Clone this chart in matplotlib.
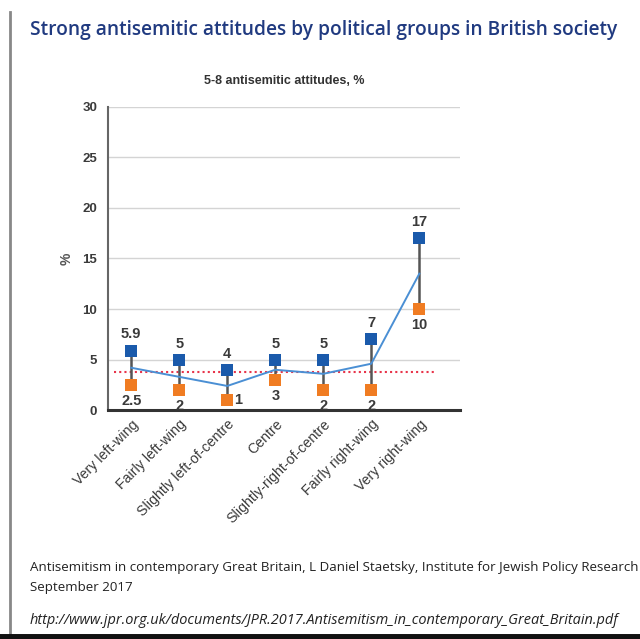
import matplotlib.pyplot as plt
from matplotlib.lines import Line2D

# data
groups = ['Very left-wing', 'Fairly left-wing', 'Slightly left-of-centre', 'Centre',
          'Slightly-right-of-centre', 'Fairly right-wing', 'Very right-wing']
high = [5.9, 5, 4, 5, 5, 7, 17]
low = [2.5, 2, 1, 3, 2, 2, 10]
high_labels = ['5.9', '5', '4', '5', '5', '7', '17']
low_labels = ['2.5', '2', '1', '3', '2', '2', '10']
trend = [4.2, 3.3, 2.4, 4.0, 3.6, 4.6, 13.5]
average = 3.8

plt.rcParams['font.family'] = ['Liberation Sans', 'DejaVu Sans']
page_font = ['Open Sans', 'DejaVu Sans']

fig = plt.figure(figsize=(6.4, 6.39), dpi=100, facecolor='white')
ax = fig.add_axes([0.169, 0.358, 0.55, 0.475])

x = list(range(len(groups)))

# grid
for g in [5, 10, 15, 20, 25, 30]:
    ax.axhline(g, color='#d4d4d4', lw=1, zorder=0)

# connectors between high and low
ax.vlines(x, low, high, color='#555555', lw=1.8, zorder=2)
# trend line
ax.plot(x, trend, color='#4a8fd4', lw=1.4, zorder=3)
# average dotted line
ax.hlines(average, -0.35, 6.35, color='#e8344a', lw=1.5, linestyles=(0, (1, 1.5)), zorder=1)
# markers
ax.scatter(x, high, marker='s', s=70, color='#1a5aab', zorder=4, linewidths=0)
ax.scatter(x, low, marker='s', s=70, color='#f07c22', zorder=4, linewidths=0)

for i in x:
    ax.text(i, high[i] + 0.9, high_labels[i], ha='center', va='bottom',
            fontsize=10.5, color='#3a3a3a', fontweight='bold')
    if i == 2:
        ax.text(i + 0.15, low[i], low_labels[i], ha='left', va='center',
                fontsize=10.5, color='#3a3a3a', fontweight='bold')
    else:
        ax.text(i, low[i] - 0.9, low_labels[i], ha='center', va='top',
                fontsize=10.5, color='#3a3a3a', fontweight='bold')

ax.set_xlim(-0.48, 6.85)
ax.set_ylim(0, 30)
ax.set_yticks([0, 5, 10, 15, 20, 25, 30])
ax.set_xticks(x)
ax.set_xticklabels(groups, rotation=45, ha='right', rotation_mode='anchor',
                   fontsize=10.2, color='#3a3a3a')
ax.tick_params(axis='y', length=0, labelsize=9.5, labelcolor='#3a3a3a', pad=8)
ax.tick_params(axis='x', length=0, pad=5)
for lab in ax.get_yticklabels():
    lab.set_fontweight('bold')

for s in ['top', 'right']:
    ax.spines[s].set_visible(False)
ax.spines['left'].set_color('#666666')
ax.spines['left'].set_linewidth(1.5)
ax.spines['bottom'].set_color('#333333')
ax.spines['bottom'].set_linewidth(2.2)

ax.set_ylabel('%', fontsize=10, color='#555555', labelpad=6, fontweight='bold')
ax.set_title('5-8 antisemitic attitudes, %', fontsize=9, color='#333333',
             fontweight='bold', pad=16)

fig.text(30 / 640, 1 - 30 / 639, 'Strong antisemitic attitudes by political groups in British society',
         fontsize=13.8, fontweight='semibold', color='#203a80', va='center', family=page_font)
fig.text(30 / 640, 1 - 567 / 639,
         'Antisemitism in contemporary Great Britain, L Daniel Staetsky, Institute for Jewish Policy Research',
         fontsize=9.6, color='#222222', va='center', family=page_font)
fig.text(30 / 640, 1 - 588 / 639, 'September 2017', fontsize=9.6, color='#222222', va='center',
         family=page_font)
fig.text(30 / 640, 1 - 621 / 639,
         'http://www.jpr.org.uk/documents/JPR.2017.Antisemitism_in_contemporary_Great_Britain.pdf',
         fontsize=10.45, color='#222222', style='italic', va='center', family=page_font)

# page frame: left edge shadow and bottom border
fig.add_artist(Line2D([10 / 640, 10 / 640], [1 - 12 / 639, 0], color='#888888', lw=2.0))
fig.add_artist(Line2D([0, 1], [2 / 639, 2 / 639], color='#111111', lw=5))

fig.savefig('out.png', dpi=100, facecolor='white')
